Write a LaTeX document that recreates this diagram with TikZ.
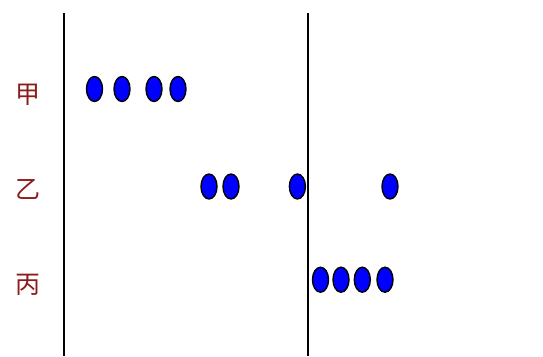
\documentclass[tikz,border=0pt]{standalone}
\usepackage{fontspec}
\usetikzlibrary{shapes.geometric}
\newfontfamily\cjk{Noto Sans CJK SC}
\definecolor{lbl}{RGB}{140,28,28}
\begin{document}
\begin{tikzpicture}[x=1pt,y=1pt,
  dot/.style={ellipse,draw=black,line width=1.4pt,fill=blue,minimum width=16pt,minimum height=25pt,inner sep=0pt},
  lab/.style={text=lbl,font=\cjk\fontsize{25}{25}\selectfont,inner sep=0pt}]
\useasboundingbox (0,0) rectangle (543,-356);
\coordinate (l1t) at (64,-13); \coordinate (l1b) at (64,-356);
\coordinate (l2t) at (307.5,-13); \coordinate (l2b) at (307.5,-356);
\draw[line width=2pt] (l1t) -- (l1b);
\draw[line width=2pt] (l2t) -- (l2b);
\node[lab] (ja) at (27.5,-95) {甲};
\node[lab] (yi) at (27.5,-189) {乙};
\node[lab] (bi) at (27.5,-285) {丙};
\node[dot] (a1) at (94.5,-89) {};
\node[dot] (a2) at (122,-89) {};
\node[dot] (a3) at (154,-89) {};
\node[dot] (a4) at (178,-89) {};
\node[dot] (b1) at (209,-186.5) {};
\node[dot] (b2) at (231,-186.5) {};
\node[dot] (b3) at (297.4,-186.5) {};
\node[dot] (b4) at (390,-186.5) {};
\node[dot] (c1) at (320.5,-279.7) {};
\node[dot] (c2) at (341,-279.7) {};
\node[dot] (c3) at (362.3,-279.7) {};
\node[dot] (c4) at (385,-279.7) {};
\end{tikzpicture}
\end{document}
